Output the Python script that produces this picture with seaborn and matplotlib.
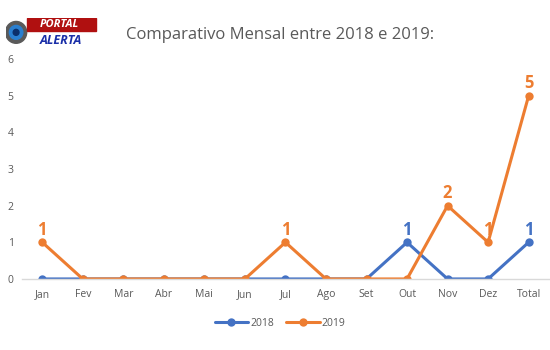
import matplotlib
matplotlib.use("Agg")
import matplotlib.pyplot as plt
import seaborn as sns
import pandas as pd
from matplotlib.patches import Circle, Rectangle

months = ["Jan", "Fev", "Mar", "Abr", "Mai", "Jun", "Jul", "Ago", "Set", "Out", "Nov", "Dez", "Total"]
v2018 = [0, 0, 0, 0, 0, 0, 0, 0, 0, 1, 0, 0, 1]
v2019 = [1, 0, 0, 0, 0, 0, 1, 0, 0, 0, 2, 1, 5]
series = ["2018", "2019"]
title = "Comparativo Mensal entre 2018 e 2019:"
yticks = [0, 1, 2, 3, 4, 5, 6]

df = pd.DataFrame({
    "mes": months * 2,
    "valor": v2018 + v2019,
    "ano": [series[0]] * len(months) + [series[1]] * len(months),
})

sns.set_theme(style="white")
plt.rcParams["font.family"] = ["Open Sans", "DejaVu Sans"]

blue = "#4472C4"
orange = "#ED7D31"
gray = "#595959"

fig = plt.figure(figsize=(5.5, 3.5), dpi=100)
ax = fig.add_axes([0.04, 0.203, 0.958, 0.628])

sns.lineplot(data=df, x="mes", y="valor", hue="ano", palette=[blue, orange],
             marker="o", markersize=6, markeredgewidth=0, linewidth=2.2,
             sort=False, ax=ax)

ax.set_xlim(-0.5, 12.5)
ax.set_ylim(0, 6)
ax.set_yticks(yticks)
ax.set_xlabel("")
ax.set_ylabel("")
for s in ["top", "right", "left"]:
    ax.spines[s].set_visible(False)
ax.spines["bottom"].set_color("#D9D9D9")
ax.spines["bottom"].set_linewidth(1)
ax.tick_params(axis="both", length=0, labelsize=7.5, colors=gray)
ax.tick_params(axis="x", pad=7)
ax.tick_params(axis="y", pad=6)

# data labels for non-zero values
for i, v in enumerate(v2018):
    if v != 0:
        ax.annotate(str(v), (i, v), xytext=(0, 2.5), textcoords="offset points",
                    ha="center", va="bottom", color=blue, fontsize=12, fontweight="bold")
for i, v in enumerate(v2019):
    if v != 0:
        ax.annotate(str(v), (i, v), xytext=(0, 2.5), textcoords="offset points",
                    ha="center", va="bottom", color=orange, fontsize=12, fontweight="bold")

leg = ax.legend(loc="upper center", bbox_to_anchor=(0.49, -0.135), ncol=2, frameon=False,
                fontsize=7.5, handlelength=3.2, columnspacing=1.2, handletextpad=0.2)
for t in leg.get_texts():
    t.set_color(gray)

fig.text(0.51, 0.90, title, ha="center", va="center", fontsize=12, color=gray)

# simple logo
lax = fig.add_axes([0.01, 0.865, 0.175, 0.085])
lax.set_xlim(0, 100)
lax.set_ylim(0, 30)
lax.axis("off")
lax.add_patch(Circle((11, 15), 11, color="#5a5a5a"))
lax.add_patch(Circle((11, 15), 7, color="#2a7fd0"))
lax.add_patch(Circle((11, 15), 3, color="#0b2f6b"))
lax.add_patch(Rectangle((22, 16), 72, 13, color="#b01010"))
lax.text(56, 22.5, "PORTAL", ha="center", va="center", color="white", fontsize=8,
         fontweight="bold", style="italic")
lax.text(58, 7, "ALERTA", ha="center", va="center", color="#1a2fa8", fontsize=9,
         fontweight="bold", style="italic")

fig.savefig("out.png", dpi=100, facecolor="white")
